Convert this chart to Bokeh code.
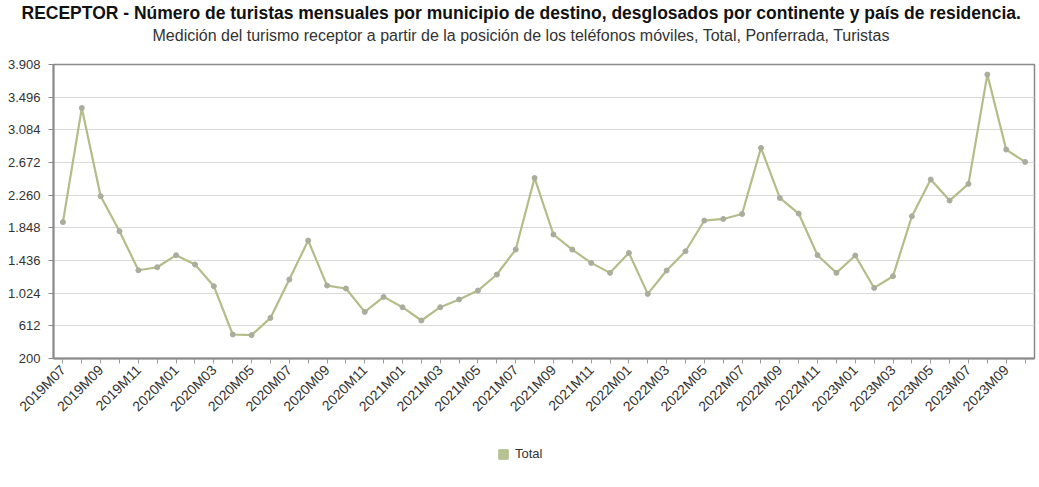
from bokeh.plotting import figure
from bokeh.layouts import column
from bokeh.models import (Range1d, FixedTicker, Title, Legend, LegendItem, ColumnDataSource)
from bokeh.embed import file_html
from bokeh.resources import INLINE
import math

months = []
for y in range(2019, 2024):
    for m in range(1, 13):
        if (y == 2019 and m < 7) or (y == 2023 and m > 10):
            continue
        months.append(f"{y}M{m:02d}")

total = [1920, 3360, 2247, 1805, 1313, 1351, 1503, 1385, 1112, 503,
         495, 712, 1196, 1688, 1120, 1083, 788, 977, 847, 679,
         847, 944, 1057, 1259, 1574, 2477, 1764, 1574, 1406, 1280,
         1532, 1015, 1310, 1553, 1940, 1960, 2023, 2856, 2225, 2028,
         1503, 1280, 1499, 1090, 1238, 1994, 2457, 2192, 2402, 3781,
         2835, 2679]

y_ticks = [200, 612, 1024, 1436, 1848, 2260, 2672, 3084, 3496, 3908]
y_tick_labels = ["200", "612", "1.024", "1.436", "1.848", "2.260", "2.672", "3.084", "3.496", "3.908"]

series_name = "Total"
title_text = "RECEPTOR - Número de turistas mensuales por municipio de destino, desglosados por continente y país de residencia."
subtitle_text = "Medición del turismo receptor a partir de la posición de los teléfonos móviles, Total, Ponferrada, Turistas"

FONT = "Liberation Sans"
LINE_COLOR = "#b3bd8a"
MARKER_COLOR = "#a9ad9c"
SWATCH_COLOR = "#b7c293"

idx = list(range(len(months)))

p = figure(width=1039, height=445, x_range=Range1d(-0.5, len(months) - 0.5),
           y_range=Range1d(200, 3908), output_backend="svg", toolbar_location=None, title=None)

p.min_border_left = 53
p.min_border_right = 5
p.min_border_top = 63
p.min_border_bottom = 87

# spacer, subtitle, title (stacked outward from the frame)
p.add_layout(Title(text=" ", text_font_size="1px", standoff=16), "above")
p.add_layout(Title(text=subtitle_text, align="left", offset=99, text_font=FONT,
                   text_font_size="16px", text_font_style="normal", text_color="#333333",
                   standoff=4), "above")
p.add_layout(Title(text=title_text, align="left", offset=-32, text_font=FONT,
                   text_font_size="17.5px", text_font_style="bold", text_color="#111111",
                   standoff=0), "above")

src = ColumnDataSource(dict(x=idx, y=total))
p.line("x", "y", source=src, line_color=LINE_COLOR, line_width=2.2)
p.scatter("x", "y", source=src, marker="circle", size=5, fill_color=MARKER_COLOR,
          line_color=MARKER_COLOR)

# y axis
p.yaxis.ticker = FixedTicker(ticks=y_ticks)
p.yaxis.major_label_overrides = {t: l for t, l in zip(y_ticks, y_tick_labels)}
p.yaxis.major_label_text_font = FONT
p.yaxis.major_label_text_font_size = "13px"
p.yaxis.major_label_text_color = "#333333"
p.yaxis.axis_line_color = "#8a8a8a"
p.yaxis.axis_line_width = 2
p.yaxis.major_tick_line_color = "#8a8a8a"
p.yaxis.major_tick_out = 5
p.yaxis.major_tick_in = 0
p.yaxis.minor_tick_line_color = None
p.yaxis.major_label_standoff = 8

# x axis
p.xaxis.ticker = FixedTicker(ticks=idx)
p.xaxis.major_label_overrides = {i: (m if i % 2 == 0 else "") for i, m in zip(idx, months)}
p.xaxis.major_label_orientation = math.pi / 4
p.xaxis.major_label_text_font = FONT
p.xaxis.major_label_text_font_size = "14px"
p.xaxis.major_label_text_color = "#333333"
p.xaxis.axis_line_color = "#8a8a8a"
p.xaxis.axis_line_width = 2
p.xaxis.major_tick_line_color = "#9a9a9a"
p.xaxis.major_tick_out = 5
p.xaxis.major_tick_in = 0
p.xaxis.minor_tick_line_color = None
p.xaxis.major_label_standoff = 4

p.xgrid.grid_line_color = None
p.ygrid.grid_line_color = "#d9d9d9"
p.ygrid.ticker = FixedTicker(ticks=y_ticks)

p.outline_line_color = "#8a8a8a"
p.outline_line_width = 1.5
p.background_fill_color = "white"
p.border_fill_color = "white"

# legend strip
lg = figure(width=1039, height=42, x_range=Range1d(0, 1), y_range=Range1d(0, 1),
            output_backend="svg", toolbar_location=None, title=None,
            x_axis_location=None, y_axis_location=None)
lg.min_border = 0
lg.grid.grid_line_color = None
lg.outline_line_color = None
swatch = lg.quad(left=[0], right=[0], top=[0], bottom=[0], fill_color=SWATCH_COLOR,
                 line_color=SWATCH_COLOR)
legend = Legend(items=[LegendItem(label=series_name, renderers=[swatch])], orientation="horizontal",
                location=(444, 26), glyph_width=12, glyph_height=12, label_text_font=FONT,
                label_text_font_size="13px", label_text_color="#333333", border_line_color=None,
                background_fill_alpha=0, padding=0, margin=0, label_standoff=6,
                label_height=12)
lg.add_layout(legend, "center")

layout = column(p, lg, spacing=0)
open("out.html", "w").write(file_html(layout, INLINE))
